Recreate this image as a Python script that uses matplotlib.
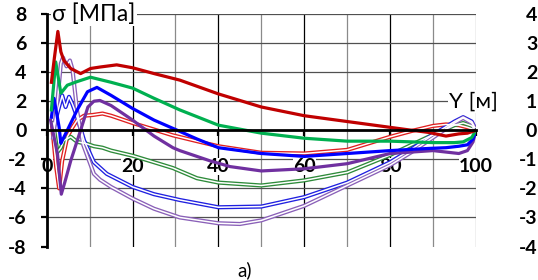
import matplotlib.pyplot as plt

# ---- data ------------------------------------------------------------
# solid (thick) curves
red_x = [1.1, 1.8, 2.6, 3.3, 4.0, 5.6, 7.9, 10.2, 12.4, 16.3, 20, 25, 31, 40, 50, 60, 70, 80, 85, 89, 93, 96, 98, 100]
red_y = [3.3, 5.0, 6.8, 5.4, 4.8, 4.25, 3.9, 4.25, 4.35, 4.5, 4.3, 3.9, 3.45, 2.5, 1.6, 1.0, 0.6, 0.2, 0.0, -0.15, -0.4, -0.25, -0.2, 0.0]

green_x = [1.1, 2.1, 3.3, 4.8, 7.1, 10.2, 15, 20, 25, 31, 40, 50, 60, 70, 80, 90, 95, 97, 99, 100]
green_y = [1.4, 4.7, 2.55, 3.1, 3.35, 3.65, 3.3, 2.9, 2.2, 1.4, 0.35, -0.2, -0.55, -0.75, -0.75, -0.85, -0.85, -0.8, -0.5, 0.0]

blue_x = [1.1, 1.7, 2.9, 3.3, 3.8, 4.8, 7.1, 9.5, 11.7, 15, 20, 25, 29.4, 35, 40, 50, 60, 70, 80, 89, 93, 96, 98, 99.3, 100]
blue_y = [0.9, 2.2, 0.2, -0.9, -0.6, 0.0, 1.4, 2.65, 2.95, 2.4, 1.5, 0.7, 0.13, -0.6, -1.2, -1.6, -1.8, -1.6, -1.4, -1.25, -1.2, -1.1, -1.0, -0.6, 0.0]

purple_x = [0.9, 2.5, 3.4, 4.2, 5.6, 7.9, 9.6, 11, 12.4, 15, 20, 25, 29.4, 31, 38, 42.7, 50, 60, 70, 80, 90, 93, 96, 98, 99.3, 100]
purple_y = [0.7, -1.6, -4.4, -3.6, -2.1, 0.0, 1.6, 2.0, 2.05, 1.7, 0.7, -0.4, -1.2, -1.4, -2.1, -2.5, -2.8, -2.65, -2.3, -1.6, -1.4, -1.5, -1.6, -1.4, -0.8, 0.0]

# double-line curves
red2_x = [1.3, 2.2, 2.9, 3.6, 4.8, 6, 7.1, 8.7, 10.7, 13, 15, 20, 25, 29.4, 35, 40, 50, 60, 70, 80, 85, 90, 93, 96, 98, 100]
red2_y = [0.2, -2.5, -4.0, -2.1, -0.45, 0.2, 0.7, 1.0, 1.05, 1.15, 1.0, 0.5, 0.05, -0.35, -0.75, -1.1, -1.55, -1.6, -1.35, -0.45, -0.05, 0.3, 0.4, 0.35, 0.2, 0.0]

green2_x = [1.5, 2.5, 3.3, 4.0, 5.6, 7.1, 9, 11, 13, 15, 20, 25, 29.4, 35, 40, 50, 60, 70, 80, 85, 90, 95, 97, 99, 100]
green2_y = [0.5, -1.5, -1.2, -0.7, -0.45, -0.8, -0.9, -1.1, -1.2, -1.4, -1.75, -2.2, -2.6, -3.3, -3.6, -3.8, -3.45, -2.9, -1.7, -1.0, -0.3, 0.35, 0.5, 0.3, 0.0]

blue2_x = [1.5, 2.5, 3.6, 4.4, 5.2, 6, 7.1, 8.7, 11, 14, 20, 25, 31, 40, 50, 60, 70, 80, 85, 90, 95, 97, 99, 100]
blue2_y = [0.0, 1.2, 2.4, 1.6, 2.3, 1.8, 0.9, -0.7, -2.2, -3.0, -3.9, -4.4, -4.8, -5.3, -5.25, -4.6, -3.6, -2.2, -1.3, -0.3, 0.6, 0.9, 0.6, 0.0]

purple2_x = [1.5, 2.5, 3.3, 3.8, 4.6, 5.4, 6.0, 7.1, 8.5, 11, 12.4, 15, 20, 25, 31, 40, 45, 50, 60, 70, 80, 85, 90, 95, 97, 99, 100]
purple2_y = [-0.5, 2.0, 4.6, 5.0, 4.4, 4.8, 4.2, 1.3, -1.0, -3.0, -3.4, -3.9, -4.7, -5.4, -6.0, -6.4, -6.45, -6.2, -5.2, -3.8, -2.4, -1.5, -0.5, 0.5, 0.85, 0.5, 0.0]

x_ticks = [0, 20, 40, 60, 80, 100]
y_ticks = [-8, -6, -4, -2, 0, 2, 4, 6, 8]
y2_ticks = [-4, -3, -2, -1, 0, 1, 2, 3, 4]

# ======================================================================

fam = ['Lato', 'DejaVu Sans']
plt.rcParams['font.family'] = fam

fig = plt.figure(figsize=(5.38, 2.8), dpi=100)
ax = fig.add_axes([0.0868, 0.1196, 0.798, 0.8304])

ax.set_xlim(0, 100)
ax.set_ylim(-8, 8)

# grid
for gx in range(10, 101, 10):
    c = "black" if gx in (20, 40, 60, 80) else "#8a8a8a"
    ax.axvline(gx, color=c, lw=0.9, zorder=1)
for gy in (-6, -4, -2, 2, 4, 6, 8):
    ax.axhline(gy, color="#505050", lw=0.9, zorder=1)

# double lines
for xs, ys, col in [(red2_x, red2_y, "#e02020"), (green2_x, green2_y, "#2e8b3a"),
                    (blue2_x, blue2_y, "#2020e0"), (purple2_x, purple2_y, "#8a60b8")]:
    ax.plot(xs, ys, color=col, lw=3.0, zorder=3, solid_joinstyle="round")
    ax.plot(xs, ys, color="white", lw=1.1, zorder=3.1, solid_joinstyle="round")

# thick lines
ax.plot(purple_x, purple_y, color="#7030a0", lw=2.3, zorder=4)
ax.plot(blue_x, blue_y, color="#0000ff", lw=2.3, zorder=4)
ax.plot(green_x, green_y, color="#00b050", lw=2.3, zorder=4)
ax.plot(red_x, red_y, color="#c00000", lw=2.3, zorder=4)

# spines
for s in ("top", "right"):
    ax.spines[s].set_visible(False)
ax.spines["left"].set_linewidth(2)
ax.spines["left"].set_zorder(5)
ax.spines["bottom"].set_position(("data", 0))
ax.spines["bottom"].set_linewidth(2)
ax.spines["bottom"].set_zorder(5)

ax.set_yticks(y_ticks)
ax.set_yticklabels([str(v) for v in y_ticks], fontsize=14, fontweight="bold")
ax.tick_params(axis="y", direction="out", length=4.5, width=1.6, pad=10)

ax.set_xticks(x_ticks)
ax.set_xticklabels([str(v) for v in x_ticks], fontsize=14, fontweight="bold")
ax.tick_params(axis="x", direction="out", length=4, width=1.6, pad=16)
for lab in ax.get_xticklabels():
    lab.set_bbox(dict(facecolor="white", edgecolor="none", pad=0.3))
    lab.set_zorder(6)

# right axis
ax2 = ax.twinx()
ax2.set_ylim(-4, 4)
ax2.set_yticks(y2_ticks)
ax2.set_yticklabels([str(v) for v in y2_ticks], fontsize=14, fontweight="bold")
for s in ax2.spines.values():
    s.set_visible(False)
ax2.tick_params(axis="y", length=0, pad=44)
for lab in ax2.get_yticklabels():
    lab.set_horizontalalignment("right")

# labels
ax.text(1.3, 8, "σ [МПа]", fontsize=16.5, family=fam, ha="left", va="center", zorder=7,
        bbox=dict(facecolor="white", edgecolor="none", pad=1))
ax.text(99.5, 2, "Y [м]", fontsize=16, family=fam, ha="center", va="center", zorder=7,
        bbox=dict(facecolor="white", edgecolor="none", pad=1))
fig.text(0.454, 0.036, "a)", fontsize=13.5, family=fam, ha="center", va="center")

fig.savefig("out.png", dpi=100)
